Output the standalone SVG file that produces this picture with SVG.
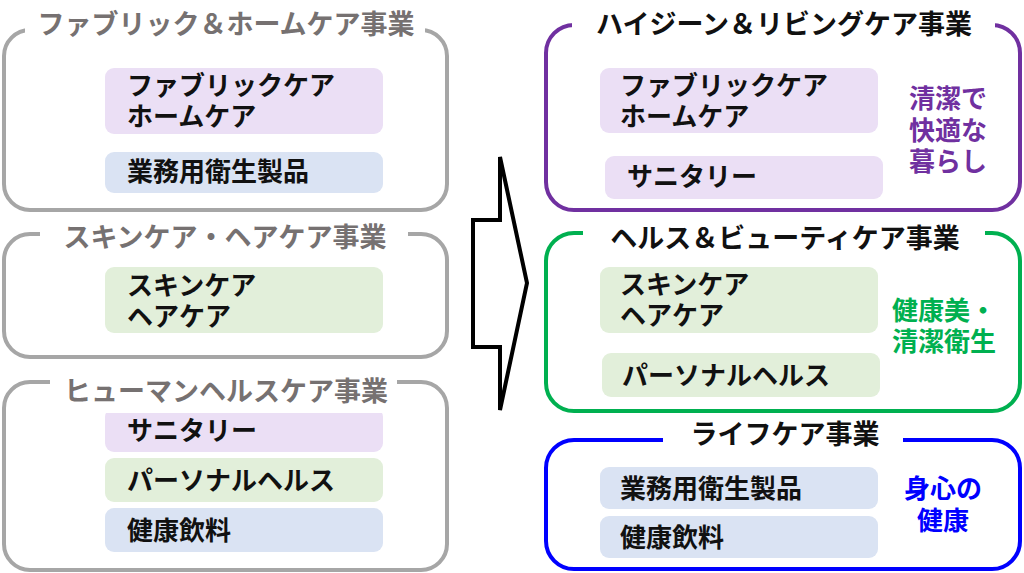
<svg xmlns="http://www.w3.org/2000/svg" width="1024" height="573" viewBox="0 0 1024 573">
<style>
text{font-family:"Noto Sans CJK JP","Noto Sans",sans-serif;font-weight:700;font-size:26px}
.t{text-anchor:middle;font-size:27px}
.gt{fill:#767171}
.bt{fill:#111}
.og{fill:none;stroke:#a6a6a6;stroke-width:4}
.op{fill:none;stroke:#7030a0;stroke-width:4}
.ogr{fill:none;stroke:#00b050;stroke-width:4}
.obl{fill:none;stroke:#0000ff;stroke-width:4}
.w{fill:#fff}
.pu{fill:#ebdff5}
.gr{fill:#e2efda}
.bl{fill:#dae3f3}
.sp{fill:#7030a0}
.sg{fill:#00b050}
.sb{fill:#0000ff;text-anchor:middle}
</style>
<rect width="1024" height="573" fill="#fff"/>
<g id="connectors">
<polygon points="500,157 527,283 500,410 500,347 473,347 473,220 500,220" fill="#fff" stroke="#000" stroke-width="4" stroke-linejoin="miter"/>
</g>
<g id="fabric-home">
<rect class="og" x="4" y="30" width="443" height="180" rx="26"/>
<rect class="w" x="25" y="18" width="400" height="24"/>
<text class="t gt" x="226" y="34">ファブリック＆ホームケア事業</text>
<rect class="pu" x="105" y="68" width="278" height="66" rx="9"/>
<text class="bt" x="127" y="95">ファブリックケア<tspan x="127" dy="31">ホームケア</tspan></text>
<rect class="bl" x="105" y="152" width="278" height="41" rx="9"/>
<text class="bt" x="127" y="181">業務用衛生製品</text>
</g>
<g id="skin-hair">
<rect class="og" x="4" y="234" width="443" height="123" rx="26"/>
<rect class="w" x="40" y="224" width="368" height="20"/>
<text class="t gt" x="225" y="247">スキンケア・ヘアケア事業</text>
<rect class="gr" x="105" y="267" width="278" height="66" rx="9"/>
<text class="bt" x="127" y="295">スキンケア<tspan x="127" dy="31">ヘアケア</tspan></text>
</g>
<g id="human-health">
<rect class="og" x="4" y="382" width="443" height="188" rx="26"/>
<rect class="pu" x="105" y="408" width="278" height="44" rx="9"/>
<rect class="w" x="50" y="372" width="347" height="41"/>
<text class="t gt" x="226" y="401">ヒューマンヘルスケア事業</text>
<text class="bt" x="127" y="440">サニタリー</text>
<rect class="gr" x="105" y="458" width="278" height="44" rx="9"/>
<text class="bt" x="127" y="490">パーソナルヘルス</text>
<rect class="bl" x="105" y="508" width="278" height="44" rx="9"/>
<text class="bt" x="127" y="540">健康飲料</text>
</g>
<g id="hygiene-living">
<rect class="op" x="546" y="25" width="474" height="185" rx="28"/>
<rect class="w" x="572" y="14" width="423" height="22"/>
<text class="t bt" x="784" y="34">ハイジーン＆リビングケア事業</text>
<rect class="pu" x="600" y="68" width="278" height="65" rx="9"/>
<text class="bt" x="620" y="95">ファブリックケア<tspan x="620" dy="31">ホームケア</tspan></text>
<rect class="pu" x="605" y="156" width="278" height="43" rx="9"/>
<text class="bt" x="627" y="186">サニタリー</text>
<text class="sp" x="909" y="108">清潔で<tspan x="909" dy="32">快適な</tspan><tspan x="909" dy="31">暮らし</tspan></text>
</g>
<g id="health-beauty">
<rect class="ogr" x="546" y="233" width="474" height="178" rx="28"/>
<rect class="w" x="583" y="222" width="402" height="22"/>
<text class="t bt" x="785" y="248">ヘルス＆ビューティケア事業</text>
<rect class="gr" x="600" y="267" width="278" height="66" rx="9"/>
<text class="bt" x="620" y="294">スキンケア<tspan x="620" dy="31">ヘアケア</tspan></text>
<rect class="gr" x="602" y="353" width="278" height="44" rx="9"/>
<text class="bt" x="622" y="385">パーソナルヘルス</text>
<text class="sg" x="892" y="320">健康美・<tspan x="892" dy="31">清潔衛生</tspan></text>
</g>
<g id="life-care">
<rect class="obl" x="546" y="440" width="474" height="129" rx="28"/>
<rect class="w" x="663" y="430" width="240" height="20"/>
<text class="t bt" x="785" y="444">ライフケア事業</text>
<rect class="bl" x="600" y="467" width="278" height="42" rx="9"/>
<text class="bt" x="620" y="498">業務用衛生製品</text>
<rect class="bl" x="600" y="516" width="278" height="42" rx="9"/>
<text class="bt" x="620" y="547">健康飲料</text>
<text class="sb" x="943" y="498">身心の<tspan x="943" dy="32">健康</tspan></text>
</g>
</svg>
